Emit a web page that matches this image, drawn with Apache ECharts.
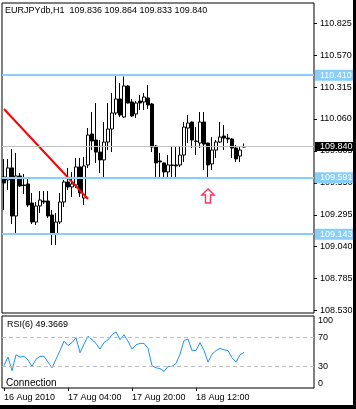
<!DOCTYPE html>
<html>
<head>
<meta charset="utf-8">
<script src="https://cdn.jsdelivr.net/npm/echarts@6/dist/echarts.min.js"></script>
<style>
html,body{margin:0;padding:0;background:#fff;}
#chart{width:356px;height:409px;}
</style>
</head>
<body>
<div id="chart"></div>
<script>
// ---- data (EURJPYdb, H1) ----
const symbolTitle = 'EURJPYdb,H1  109.836 109.864 109.833 109.840';
const rsiTitle = 'RSI(6) 49.3669';
const statusText = 'Connection';
const slotCount = 78; // bar slots across the chart width (61 bars + right shift)
const timeLabels = ['16 Aug 2010', '17 Aug 04:00', '17 Aug 20:00', '18 Aug 12:00'];
const timeLabelBars = [0, 16, 32, 48];

const open = [109.597,109.573,109.669,109.285,109.605,109.533,109.541,109.389,109.237,109.365,
  109.405,109.405,109.293,109.141,109.237,109.397,109.557,109.517,109.533,109.677,
  109.429,109.693,109.940,109.892,109.796,109.733,109.876,109.980,110.108,110.220,
  110.076,110.324,110.196,110.100,110.204,110.196,110.228,110.180,109.844,109.725,
  109.709,109.637,109.689,109.693,109.693,109.772,109.988,110.036,109.884,109.868,
  110.036,109.868,109.701,109.812,109.876,109.924,109.908,109.900,109.828,109.764,
  109.836];
const close = [109.549,109.669,109.285,109.605,109.525,109.529,109.373,109.237,109.365,109.413,
  109.397,109.285,109.141,109.237,109.397,109.557,109.517,109.541,109.677,109.469,
  109.685,109.932,109.884,109.796,109.733,109.876,109.980,110.108,110.220,110.092,
  110.324,110.188,110.084,110.188,110.188,110.236,110.172,109.836,109.709,109.717,
  109.637,109.693,109.693,109.685,109.772,109.996,110.028,109.892,109.880,110.036,
  109.860,109.693,109.812,109.876,109.916,109.908,109.900,109.828,109.741,109.812,
  109.840];
const low = [109.333,109.493,109.221,109.149,109.517,109.461,109.357,109.221,109.213,109.309,
  109.381,109.269,109.053,109.053,109.221,109.357,109.493,109.437,109.509,109.437,
  109.373,109.669,109.812,109.709,109.629,109.597,109.812,109.796,110.092,110.076,
  110.068,110.184,110.076,110.068,110.132,110.132,110.140,109.796,109.597,109.597,
  109.597,109.597,109.597,109.581,109.677,109.717,109.868,109.828,109.772,109.828,
  109.653,109.581,109.653,109.749,109.868,109.812,109.868,109.749,109.717,109.717,
  109.833];
const high = [109.741,109.741,109.820,109.788,109.629,109.621,109.597,109.469,109.397,109.485,
  109.485,109.485,109.333,109.309,109.469,109.573,109.669,109.637,109.749,109.749,
  109.757,109.988,110.116,110.188,109.892,110.036,110.188,110.268,110.404,110.348,
  110.400,110.330,110.220,110.204,110.252,110.268,110.332,110.188,109.852,109.788,
  109.712,109.772,109.836,109.836,109.836,110.036,110.092,110.040,109.996,110.116,
  110.116,109.870,109.916,109.892,110.036,110.012,109.940,109.908,109.852,109.836,
  109.864];
const rsi = [31,43,24,46,43,44,39,30,40,44,
  44,36,28,40,52,65,59,63,70,49,
  61,72,67,62,54,63,67,74,78,67,
  74,65,54,60,62,62,55,31,28,27,
  23,30,30,34,47,66,68,52,52,63,
  52,36,47,52,55,53,52,42,36,46,
  49.3669];

const priceTicks = [110.825,110.570,110.315,110.060,109.805,109.550,109.295,109.040,108.785,108.530];
const priceMin = 108.510, priceMax = 110.987;
const levelLines = [110.410, 109.591, 109.143];
const bidPrice = 109.840;
const trendBars = [0, 21];
const trendPrices = [110.140, 109.421];
const arrowBar = 51;
const arrowPrice = 109.445;
const rsiMidTicks = [30, 70];
const rsiTopTick = [100];
const rsiBottomTick = [0];
const rsiLevels = [30, 70];

// ---- build ----
const slots = [];
for (let i = 0; i < slotCount; i++) slots.push(String(i));
const candles = open.map((o, i) => [o, close[i], low[i], high[i]]);
const FONT = 'Liberation Sans, Arial, sans-serif';
const isLabelBar = (idx) => timeLabelBars.indexOf(idx) >= 0;

const chart = echarts.init(document.getElementById('chart'), null, {renderer: 'canvas'});

const levelMarks = levelLines.map(v => ({
  yAxis: v,
  lineStyle: {color: '#87CEFA', width: 2, type: 'solid'},
  label: {show: true, position: 'end', formatter: v.toFixed(3), backgroundColor: '#87CEFA',
    color: '#ffffff', padding: [1, 12, 1, 5], distance: 1, fontSize: 9, fontFamily: FONT}
}));
levelMarks.push({
  yAxis: bidPrice,
  lineStyle: {color: '#C0C0C0', width: 1, type: 'solid'},
  label: {show: true, position: 'end', formatter: bidPrice.toFixed(3), backgroundColor: '#000000',
    color: '#ffffff', padding: [0, 12, 0, 5], distance: 1, fontSize: 9, fontFamily: FONT}
});

const rsiAxisBase = {
  gridIndex: 1, type: 'value', position: 'right', min: 0, max: 100,
  axisLine: {show: false}, axisTick: {show: false}, splitLine: {show: false}
};

const option = {
  animation: false,
  backgroundColor: '#ffffff',
  grid: [
    {left: 2, top: 3, width: 312, height: 310, show: true, borderColor: '#000', borderWidth: 1, backgroundColor: 'transparent'},
    {left: 2, top: 316, width: 312, height: 72, show: true, borderColor: '#000', borderWidth: 1, backgroundColor: 'transparent'}
  ],
  xAxis: [
    {gridIndex: 0, type: 'category', data: slots, boundaryGap: true,
      axisLine: {show: false}, axisTick: {show: false}, axisLabel: {show: false}, splitLine: {show: false}},
    {gridIndex: 1, type: 'category', data: slots, boundaryGap: true,
      axisLine: {show: false},
      axisTick: {show: true, alignWithLabel: true, length: 3, interval: (idx) => isLabelBar(idx), lineStyle: {color: '#000'}},
      axisLabel: {show: true, interval: (idx) => isLabelBar(idx), align: 'left', margin: 5,
        formatter: (val, idx) => { const k = timeLabelBars.indexOf(Number(val)); return k >= 0 ? timeLabels[k] : ''; },
        color: '#000', fontSize: 9, fontFamily: FONT},
      splitLine: {show: false}}
  ],
  yAxis: [
    {gridIndex: 0, type: 'value', position: 'right', min: priceMin, max: priceMax,
      axisLine: {show: false}, splitLine: {show: false},
      axisTick: {show: true, length: 3, customValues: priceTicks, lineStyle: {color: '#000'}},
      axisLabel: {show: true, customValues: priceTicks, margin: 6, formatter: v => v.toFixed(3),
        color: '#000', fontSize: 9, fontFamily: FONT}},
    Object.assign({}, rsiAxisBase, {axisLabel: {show: true, customValues: rsiMidTicks, margin: 4, color: '#000', fontSize: 9, fontFamily: FONT}}),
    Object.assign({}, rsiAxisBase, {axisLabel: {show: true, customValues: rsiTopTick, margin: 4, verticalAlign: 'top', color: '#000', fontSize: 9, fontFamily: FONT}}),
    Object.assign({}, rsiAxisBase, {axisLabel: {show: true, customValues: rsiBottomTick, margin: 4, verticalAlign: 'bottom', color: '#000', fontSize: 9, fontFamily: FONT}})
  ],
  series: [
    {
      type: 'candlestick', xAxisIndex: 0, yAxisIndex: 0, data: candles, barWidth: 3,
      itemStyle: {color: '#ffffff', color0: '#000000', borderColor: '#000000', borderColor0: '#000000', borderWidth: 1},
      markLine: {silent: true, symbol: ['none', 'none'], animation: false, data: levelMarks},
      z: 3
    },
    {
      type: 'line', xAxisIndex: 0, yAxisIndex: 0,
      data: trendBars.map((b, i) => [b, trendPrices[i]]),
      symbol: 'none', lineStyle: {color: '#ff0000', width: 2}, silent: true, z: 4
    },
    {
      type: 'scatter', xAxisIndex: 0, yAxisIndex: 0, data: [[arrowBar, arrowPrice]],
      symbol: 'path://M6,0 L12,6 L8.5,6 L8.5,14 L3.5,14 L3.5,6 L0,6 Z',
      symbolSize: [12, 14],
      itemStyle: {color: '#ffffff', borderColor: '#ff0033', borderWidth: 1.5}, silent: true, z: 5
    },
    {
      type: 'line', xAxisIndex: 1, yAxisIndex: 1, data: rsi, showSymbol: false, symbol: 'none',
      lineStyle: {color: '#1E90FF', width: 1}, silent: true,
      markLine: {silent: true, symbol: ['none', 'none'], label: {show: false},
        lineStyle: {color: '#C0C0C0', type: [4, 3], width: 1},
        data: rsiLevels.map(v => ({yAxis: v}))}
    }
  ],
  graphic: [
    {type: 'text', x: 5, y: 11, style: {text: symbolTitle, fill: '#000', font: '9px ' + FONT, verticalAlign: 'middle'}, z: 10},
    {type: 'text', x: 7, y: 325, style: {text: rsiTitle, fill: '#000', font: '9px ' + FONT, verticalAlign: 'middle'}, z: 10},
    {type: 'text', x: 6, y: 383, style: {text: statusText, fill: '#000', font: '10px ' + FONT, verticalAlign: 'middle'}, z: 10},
    {type: 'rect', shape: {x: 353, y: 0, width: 3, height: 409}, style: {fill: '#000'}, z: 20},
    {type: 'rect', shape: {x: 0, y: 405, width: 356, height: 4}, style: {fill: '#000'}, z: 20}
  ]
};
chart.setOption(option);
</script>
</body>
</html>
